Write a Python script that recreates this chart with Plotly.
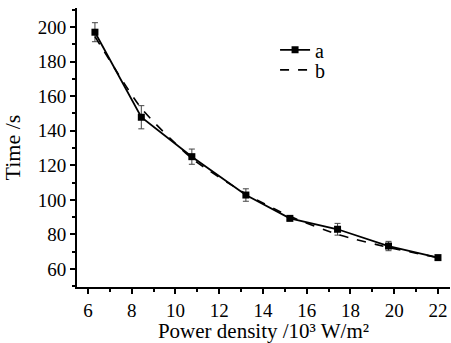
import plotly.graph_objects as go

power = [6.32, 8.44, 10.75, 13.22, 15.23, 17.41, 19.74, 22.0]
time_a = [197.0, 147.8, 125.0, 102.8, 89.3, 83.0, 73.3, 66.6]
err_a = [5.5, 6.7, 4.4, 3.6, 1.0, 3.4, 2.7, 1.0]
time_b = [194.5, 153.0, 124.0, 103.5, 90.5, 80.0, 72.5, 66.6]

font = "Liberation Serif"

fig = go.Figure()
fig.add_trace(go.Scatter(
    x=power, y=time_a, name="a", mode="lines+markers", legend="legend",
    line=dict(color="black", width=1.8),
    marker=dict(symbol="square", size=7, color="black"),
    error_y=dict(type="data", array=err_a, visible=True, color="#444444",
                 thickness=1, width=3),
))
fig.add_trace(go.Scatter(
    x=power, y=time_b, name="b", mode="lines", legend="legend2",
    line=dict(color="black", width=1.6, dash="dash", shape="spline", smoothing=0.6),
))

leg = dict(xanchor="left", yanchor="top", bgcolor="rgba(0,0,0,0)",
           font=dict(family=font, size=20), itemwidth=30)

fig.update_layout(
    width=451, height=343,
    margin=dict(l=77, r=1, t=8, b=56, autoexpand=False),
    paper_bgcolor="white", plot_bgcolor="white",
    font=dict(family=font, size=19, color="black"),
    showlegend=True,
    legend=dict(x=0.531, y=0.92, **leg),
    legend2=dict(x=0.531, y=0.848, **leg),
    xaxis=dict(
        range=[5.5, 22.55], tickmode="array", automargin=True,
        tickvals=[6, 8, 10, 12, 14, 16, 18, 20, 22],
        ticks="outside", ticklen=5, tickwidth=1.5, tickcolor="black",
        minor=dict(tickvals=[7, 9, 11, 13, 15, 17, 19, 21], ticks="outside", ticklen=3, tickwidth=1.5, tickcolor="black"),
        showline=True, linecolor="black", linewidth=2, showgrid=False, zeroline=False,
        title=dict(text="Power density /10³ W/m²", standoff=7, font=dict(family=font, size=21)),
        tickfont=dict(family=font, size=19),
    ),
    yaxis=dict(
        range=[49.6, 211], tickmode="array", automargin=False,
        tickvals=[60, 80, 100, 120, 140, 160, 180, 200],
        ticks="outside", ticklen=5, tickwidth=1.5, tickcolor="black",
        minor=dict(tickvals=[50, 70, 90, 110, 130, 150, 170, 190, 210], ticks="outside", ticklen=3, tickwidth=1.5, tickcolor="black"),
        showline=True, linecolor="black", linewidth=2, showgrid=False, zeroline=False,
        title=dict(text="Time /s", font=dict(family=font, size=22)),
        tickfont=dict(family=font, size=19),
    ),
)

fig.write_html("out.html", config={"displayModeBar": False},
               post_script="document.body.style.margin='0';document.body.style.padding='0';")
